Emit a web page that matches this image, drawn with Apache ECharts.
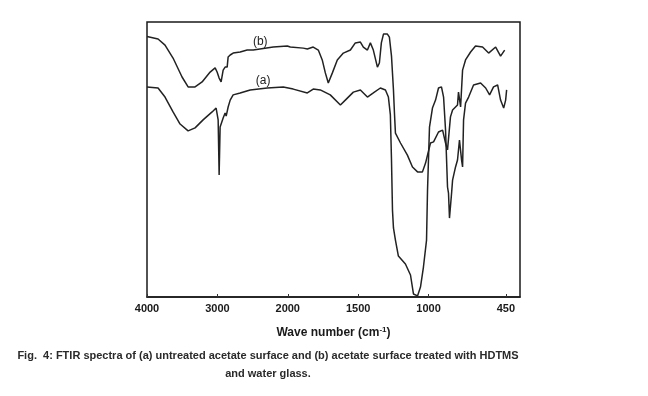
<!DOCTYPE html>
<html>
<head>
<meta charset="utf-8">
<script src="https://cdn.jsdelivr.net/npm/echarts@6/dist/echarts.min.js"></script>
<style>html,body{margin:0;padding:0;background:#fff;}#c{width:648px;height:396px;}</style>
</head>
<body>
<div id="c"></div>
<script>
// Tick labels (wavenumber, cm^-1)
const tickWavenumbers = [4000, 3000, 2000, 1500, 1000, 450];
const tickLabels = ["4000", "3000", "2000", "1500", "1000", "450"];

// Curve (b): acetate surface treated with HDTMS and water glass
const bWave = [4000,3843,3744,3630,3502,3416,3317,3217,3103,3032,3004,2975,2947,2918,2890,2861,2847,2818,2776,2676,2577,2491,2206,2007,1982,1890,1861,1819,1783,1755,1733,1712,1683,1648,1605,1555,1520,1484,1463,1434,1413,1392,1363,1349,1335,1320,1292,1278,1263,1249,1242,1235,1199,1150,1114,1078,1043,1021,986,964,929,900,879,865,844,829,794,787,772,758,737,701,666,616,573,523,488,459];
const bVal  = [94.7,93.8,91.6,86.9,80.0,76.4,76.4,78.2,81.8,83.3,81.8,79.6,78.2,82.5,83.6,83.6,87.3,88.0,88.7,89.1,89.8,89.8,90.9,91.3,90.9,90.5,90.2,90.9,89.8,86.2,81.5,77.8,81.5,86.2,88.7,89.8,92.4,92.7,90.9,89.8,92.4,89.8,83.6,85.1,92.4,95.6,95.6,94.5,87.6,75.3,66.9,59.6,56.0,51.6,47.3,45.5,45.5,48.7,56.0,56.4,60.0,60.7,56.0,53.5,65.5,68.0,69.8,74.5,69.1,82.5,86.2,89.1,91.3,90.9,88.7,90.9,87.6,89.8];

// Curve (a): untreated acetate surface
const aWave = [4000,3843,3744,3630,3530,3416,3317,3203,3075,3018,2989,2975,2961,2918,2890,2875,2847,2818,2776,2676,2534,2292,2064,1961,1861,1819,1769,1698,1626,1591,1534,1484,1434,1392,1342,1306,1285,1271,1263,1256,1249,1235,1214,1164,1128,1107,1078,1057,1036,1014,1007,993,972,950,929,908,893,879,865,858,851,836,829,808,794,780,765,758,751,737,715,680,630,594,566,538,509,488,466,452,445];
const aVal  = [76.4,76.0,72.7,67.3,62.9,60.4,61.5,64.4,67.3,68.7,64.4,44.4,61.8,65.1,66.9,65.8,69.1,71.6,73.5,74.2,75.3,76.0,76.4,75.6,74.2,75.6,75.3,73.5,69.8,71.6,74.5,75.3,72.7,74.2,76.0,75.3,72.7,66.2,49.8,31.6,25.1,20.7,14.9,12.0,8.0,1.1,0.4,3.6,10.9,20.7,38.9,61.8,68.7,71.6,76.0,76.4,72.7,60.7,40.0,37.8,28.7,37.8,42.5,47.3,49.8,57.1,49.8,47.3,64.4,70.5,72.7,77.1,77.8,76.0,73.5,76.4,77.1,71.6,68.7,71.6,75.3];

// Curve label anchors (wavenumber, value)
const curveLabels = [["(b)", 2391, 92.7], ["(a)", 2349, 78.5]];
const caption = "Fig.  4: FTIR spectra of (a) untreated acetate surface and (b) acetate surface treated with HDTMS\nand water glass.";

// Axis scale changes at 2000 cm^-1 (right part expanded 2x)
function toU(w) { return w >= 2000 ? (4000 - w) / 2 : 1000 + (2000 - w); }
function pairs(ws, vs) { return ws.map((w, i) => [toU(w), vs[i]]); }

const FONT = 'Liberation Sans, Arial, sans-serif';
const tickU = tickWavenumbers.map(toU);
const chart = echarts.init(document.getElementById('c'));
const lineStyle = { color: '#222', width: 1.5 };
chart.setOption({
  animation: false,
  backgroundColor: '#fff',
  grid: { left: 147, right: 128, top: 22, bottom: 99, show: true, borderColor: '#1a1a1a', borderWidth: 1.5, backgroundColor: 'transparent' },
  xAxis: {
    type: 'value', min: 0, max: 2650,
    axisLine: { show: true, lineStyle: { color: '#1a1a1a', width: 1.5 } },
    axisTick: { show: true, inside: true, length: 3, customValues: tickU, lineStyle: { color: '#333' } },
    axisLabel: {
      customValues: tickU, margin: 6,
      fontFamily: FONT, fontSize: 11, fontWeight: 'bold', color: '#1a1a1a',
      formatter: function (v) { const i = tickU.indexOf(v); return i >= 0 ? tickLabels[i] : ''; }
    },
    splitLine: { show: false },
    name: '{a|Wave number (cm}{s|-1}{a|)}',
    nameLocation: 'middle', nameGap: 29,
    nameTextStyle: {
      rich: {
        a: { fontFamily: FONT, fontSize: 12, fontWeight: 'bold', color: '#1a1a1a' },
        s: { fontFamily: FONT, fontSize: 8, fontWeight: 'bold', color: '#1a1a1a', verticalAlign: 'top', padding: [0, 0, 6, 0] }
      }
    }
  },
  yAxis: { type: 'value', min: 0, max: 100, show: false },
  series: [
    { name: '(b)', type: 'line', data: pairs(bWave, bVal), showSymbol: false, lineStyle: lineStyle },
    { name: '(a)', type: 'line', data: pairs(aWave, aVal), showSymbol: false, lineStyle: lineStyle }
  ]
});
const graphics = curveLabels.map(function (c) {
  const p = chart.convertToPixel({ gridIndex: 0 }, [toU(c[1]), c[2]]);
  return { type: 'text', x: p[0], y: p[1], style: { text: c[0], textAlign: 'center', textVerticalAlign: 'middle', font: '12px ' + FONT, fill: '#222' } };
});
graphics.push({ type: 'text', x: 268, y: 347, style: { text: caption, textAlign: 'center', textVerticalAlign: 'top', font: 'bold 11px ' + FONT, fill: '#2a2a2a', lineHeight: 18 } });
chart.setOption({ graphic: graphics });
</script>
</body>
</html>
